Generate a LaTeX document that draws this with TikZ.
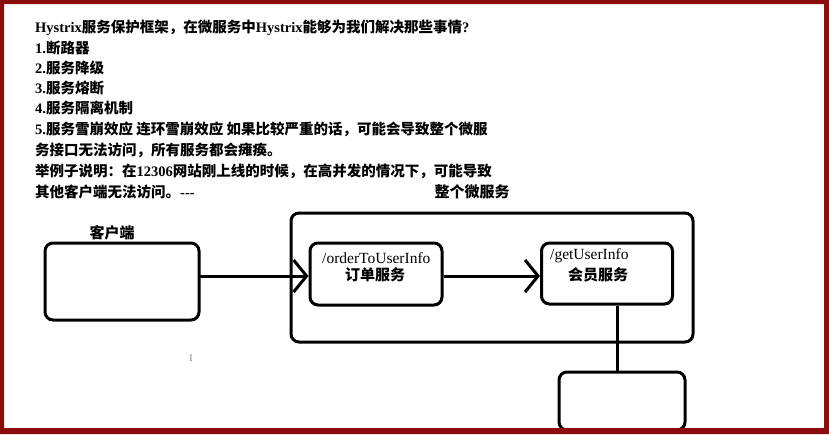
\documentclass[tikz,border=0pt]{standalone}
\usepackage{fontspec}
\setmainfont{Liberation Serif}
\newfontfamily\cjk{Noto Sans CJK SC}
\usetikzlibrary{arrows.meta}
\newcommand\zhtxt[1]{{\cjk #1}}
\definecolor{framered}{RGB}{139,12,12}
\tikzset{
  line/.style={anchor=west, inner sep=0pt, font=\fontsize{14.5}{14.5}\selectfont\bfseries},
  boxr/.style={draw, line width=3pt, rounded corners=8pt},
  conn/.style={line width=3pt, -{Straight Barb[length=13pt,width=32pt,line width=3pt]}},
  lbl/.style={inner sep=0pt, font=\fontsize{15}{15}\selectfont\bfseries},
  lbll/.style={inner sep=0pt, font=\fontsize{15.5}{15.5}\selectfont},
}
\begin{document}
\begin{tikzpicture}[x=1pt,y=-1pt]
\useasboundingbox (0,0) rectangle (829,434);
\fill[white] (0,0) rectangle (829,434);
% text
\node[line] (t1) at (35,28) {Hystrix\zhtxt{服务保护框架，在微服务中}Hystrix\zhtxt{能够为我们解决那些事情}?};
\node[line] (t2) at (35,48) {1.\zhtxt{断路器}};
\node[line] (t3) at (35,68) {2.\zhtxt{服务降级}};
\node[line] (t4) at (35,88) {3.\zhtxt{服务熔断}};
\node[line] (t5) at (35,108) {4.\zhtxt{服务隔离机制}};
\node[line] (t6) at (35,129) {5.\zhtxt{服务雪崩效应 连环雪崩效应 如果比较严重的话，可能会导致整个微服}};
\node[line] (t7) at (35,150) {\zhtxt{务接口无法访问，所有服务都会瘫痪。}};
\node[line] (t8) at (35,171) {\zhtxt{举例子说明：在}12306\zhtxt{网站刚上线的时候，在高并发的情况下，可能导致}};
\node[line] (t9) at (35,192) {\zhtxt{其他客户端无法访问。}-{}-{}-};
% boxes
\draw[boxr] (291,213) rectangle (693,342);
\node[lbl] (lblall) at (472,192) {\zhtxt{整个微服务}};
\draw[boxr] (45,243) rectangle (199,320);
\node (client) at (122,281.5) [minimum width=154pt, minimum height=77pt, inner sep=0pt] {};
\node[lbl] (lblclient) at (112,233) {\zhtxt{客户端}};
\node[boxr, minimum width=132pt, minimum height=62pt, inner sep=0pt] (order) at (376,274) {};
\node[lbll, anchor=west] (ordern) at (322,258) {/orderToUserInfo};
\node[lbl] (orders) at (375,275) {\zhtxt{订单服务}};
\node[boxr, minimum width=131pt, minimum height=61pt, inner sep=0pt] (user) at (607,273.5) {};
\node[lbll, anchor=west] (usern) at (550,256) {/getUserInfo};
\node[lbl] (users) at (598,275) {\zhtxt{会员服务}};
\node[boxr, minimum width=126pt, minimum height=58pt, inner sep=0pt] (lower) at (622,401) {};
% connectors
\draw[conn] (client.east |- 0,276) -- (order.west |- 0,276);
\draw[conn] (order.east |- 0,276) -- (user.west |- 0,276);
\draw[line width=3pt] (user.south -| 617,0) -- (lower.north -| 617,0);
% cursor mark
\node[inner sep=0pt, text=gray, font=\fontsize{10}{10}\selectfont] (cursor) at (191,358) {I};
% frame
\fill[framered, even odd rule] (0,0) rectangle (829,434) (4,4) rectangle (824,428);
\end{tikzpicture}
\end{document}
